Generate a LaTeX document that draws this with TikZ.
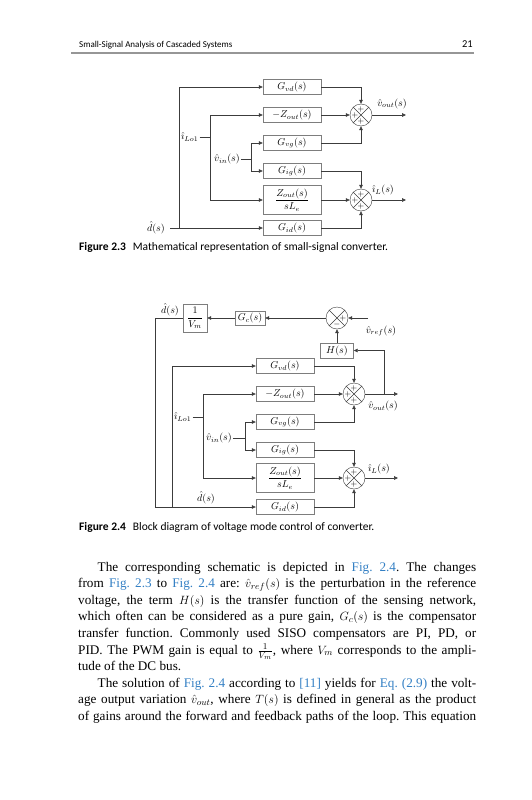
\documentclass[tikz,border=0pt]{standalone}
\usepackage{amsmath}
\usepackage{fontspec}
\setmainfont{Liberation Serif}
\newfontfamily\capfont{Carlito}
\usetikzlibrary{arrows.meta, positioning}
\definecolor{wire}{RGB}{60,60,60}
\definecolor{frame}{RGB}{125,125,125}
\definecolor{linkblue}{RGB}{52,128,196}
\definecolor{rulegray}{RGB}{150,150,150}
\newcommand{\lnk}[1]{{\color{linkblue}#1}}
\newcommand{\plus}{$+$}
\frenchspacing

\begin{document}
\begin{tikzpicture}[x=1pt, y=-1pt, every node/.style={font=\fontsize{10}{12}\selectfont},
      blk/.style={draw=frame, minimum width=58pt, minimum height=15pt, inner sep=0pt},
      tall/.style={blk, minimum height=29pt},
      sum/.style={circle, draw=wire, minimum size=22pt, inner sep=0pt,
                  path picture={\draw[wire, line width=0.5pt] (path picture bounding box.north west) -- (path picture bounding box.south east)
                                (path picture bounding box.north east) -- (path picture bounding box.south west);}},
      sgn/.style={font=\fontsize{8.5}{8.5}\selectfont, inner sep=0pt},
      lbl/.style={inner sep=1pt},
      ar/.style={-{Triangle[length=4pt, width=3.6pt]}, draw=wire, line width=0.6pt},
      ln/.style={draw=wire, line width=0.6pt},
      figcap/.style={anchor=base west, inner sep=0pt, font=\capfont\fontsize{11.5}{13}\selectfont}]
    \useasboundingbox (0,0) rectangle (531,800);

    % running head
    \node[anchor=base west, inner sep=0pt, font=\capfont\fontsize{9}{11}\selectfont] (head) at (79,48) {Small-Signal Analysis of Cascaded Systems};
    \node[anchor=base east, inner sep=0pt, font=\capfont\fontsize{10.5}{11}\selectfont] (pgno) at (473,48) {21};
    \coordinate (rl) at (71,53); \coordinate (rr) at (474,53);
    \draw[rulegray, line width=1.2pt] (rl) -- (rr);

    % Figure 2.3
    \node[blk] (gvd) at (292,87) {$G_{vd}(s)$};
    \node[blk] (zo) at (292,115) {$-Z_{out}(s)$};
    \node[blk] (gvg) at (292,143) {$G_{vg}(s)$};
    \node[blk] (gig) at (292,171) {$G_{ig}(s)$};
    \node[tall] (zsl) at (292,200) {$\dfrac{Z_{out}(s)}{sL_e}$};
    \node[blk] (gid) at (292,228) {$G_{id}(s)$};
    \node[sum] (s1) at (361,115) {};
    \node[sum] (s2) at (361,200) {};
    \foreach \s in {s1,s2} {
      \node[sgn] (\s t) at ([shift={(0,-6)}]\s.center) {\plus};
      \node[sgn] (\s l) at ([shift={(-6,0)}]\s.center) {\plus};
      \node[sgn] (\s b) at ([shift={(0,6)}]\s.center) {\plus};
    }
    \node[lbl, anchor=east] (d1) at (166,228) {$\hat{d}(s)$};
    \coordinate (d1a) at (170,228);
    \coordinate (d1b) at (179,228);
    \node[lbl, anchor=west] (il1) at (180,137) {$\hat{\imath}_{Lo1}$};
    \coordinate (il1a) at (210,137);
    \node[lbl, anchor=west] (vi1) at (213,159) {$\hat{v}_{in}(s)$};
    \coordinate (vi1a) at (251,159);
    \coordinate (o1) at (406,115);
    \coordinate (o2) at (406,200);
    \node[lbl] (vo1) at (392,104) {$\hat{v}_{out}(s)$};
    \node[lbl] (il1o) at (383,190) {$\hat{\imath}_{L}(s)$};

    \draw[ar] (d1a) -- (gid);
    \draw[ar] (d1b) |- (gvd);
    \draw[ln] (il1) -- (il1a);
    \draw[ar] (il1a) |- (zo);
    \draw[ar] (il1a) |- (zsl);
    \draw[ln] (vi1) -- (vi1a);
    \draw[ar] (vi1a) |- (gvg);
    \draw[ar] (vi1a) |- (gig);
    \draw[ar] (gvd) -| (s1);
    \draw[ar] (zo) -- (s1);
    \draw[ar] (gvg) -| (s1);
    \draw[ar] (gig) -| (s2);
    \draw[ar] (zsl) -- (s2);
    \draw[ar] (gid) -| (s2);
    \draw[ar] (s1) -- (o1);
    \draw[ar] (s2) -- (o2);

    \node[figcap] (cap3) at (79,250) {\textbf{Figure 2.3}\hspace{0.6em}Mathematical representation of small-signal converter.};

    % Figure 2.4
    \node[draw=frame, minimum width=24pt, minimum height=28pt, inner sep=0pt] (vm) at (195,318) {$\dfrac{1}{V_m}$};
    \node[draw=frame, minimum width=30pt, minimum height=14pt, inner sep=0pt] (gc) at (250,318) {$G_c(s)$};
    \node[sum] (s3) at (337,318) {};
    \node[sgn] (s3r) at ([shift={(6,0)}]s3.center) {\plus};
    \node[sgn] (s3b) at ([shift={(0,6)}]s3.center) {$-$};
    \node[draw=frame, minimum width=33pt, minimum height=15pt, inner sep=0pt] (hs) at (337,350.5) {$H(s)$};
    \coordinate (rf) at (368,318);
    \node[lbl] (vref) at (381,331) {$\hat{v}_{ref}(s)$};

    \node[blk] (gvd2) at (285,366) {$G_{vd}(s)$};
    \node[blk] (zo2) at (285,394) {$-Z_{out}(s)$};
    \node[blk] (gvg2) at (285,422) {$G_{vg}(s)$};
    \node[blk] (gig2) at (285,450) {$G_{ig}(s)$};
    \node[tall] (zsl2) at (285,478) {$\dfrac{Z_{out}(s)}{sL_e}$};
    \node[blk] (gid2) at (285,507) {$G_{id}(s)$};
    \node[sum] (s4) at (354,394) {};
    \node[sum] (s5) at (354,478) {};
    \foreach \s in {s4,s5} {
      \node[sgn] (\s t) at ([shift={(0,-6)}]\s.center) {\plus};
      \node[sgn] (\s l) at ([shift={(-6,0)}]\s.center) {\plus};
      \node[sgn] (\s b) at ([shift={(0,6)}]\s.center) {\plus};
    }
    \node[lbl] (d2) at (170,310) {$\hat{d}(s)$};
    \node[lbl] (d3) at (206,498) {$\hat{d}(s)$};
    \coordinate (c1) at (155,507);
    \coordinate (c2) at (172,507);
    \node[lbl, anchor=west] (il2) at (173,417) {$\hat{\imath}_{Lo1}$};
    \coordinate (il2a) at (203,417);
    \node[lbl, anchor=west] (vi2) at (205,438) {$\hat{v}_{in}(s)$};
    \coordinate (vi2a) at (245,438);
    \coordinate (o3) at (398,394);
    \coordinate (o4) at (398,478);
    \coordinate (fb) at (384,394);
    \node[lbl] (vo2) at (383,406) {$\hat{v}_{out}(s)$};
    \node[lbl] (il2o) at (379,469) {$\hat{\imath}_{L}(s)$};

    \draw[ar] (rf) -- (s3);
    \draw[ar] (s3) -- (gc);
    \draw[ar] (gc) -- (vm);
    \draw[ar] (vm) -| (c1) -- (gid2);
    \draw[ar] (c2) |- (gvd2);
    \draw[ar] (hs) -- (s3);
    \draw[ar] (fb) |- (hs);
    \draw[ln] (il2) -- (il2a);
    \draw[ar] (il2a) |- (zo2);
    \draw[ar] (il2a) |- (zsl2);
    \draw[ln] (vi2) -- (vi2a);
    \draw[ar] (vi2a) |- (gvg2);
    \draw[ar] (vi2a) |- (gig2);
    \draw[ar] (gvd2) -| (s4);
    \draw[ar] (zo2) -- (s4);
    \draw[ar] (gvg2) -| (s4);
    \draw[ar] (gig2) -| (s5);
    \draw[ar] (zsl2) -- (s5);
    \draw[ar] (gid2) -| (s5);
    \draw[ar] (s4) -- (o3);
    \draw[ar] (s5) -- (o4);

    \node[figcap] (cap4) at (79,530) {\textbf{Figure 2.4}\hspace{0.6em}Block diagram of voltage mode control of converter.};

    % running text
    \node[anchor=base west, inner sep=0pt, text width=398pt, align=justify,
          font=\fontsize{13.2}{16.6}\selectfont] (body) at (78,571) {%
      \hspace*{19.5pt}The corresponding schematic is depicted in \lnk{Fig. 2.4}. The changes\linebreak
      from \lnk{Fig. 2.3} to \lnk{Fig. 2.4} are: $\hat{v}_{ref}(s)$ is the perturbation in the reference\linebreak
      voltage, the term $H(s)$ is the transfer function of the sensing network,\linebreak
      which often can be considered as a pure gain, $G_c(s)$ is the compensator\linebreak
      transfer function. Commonly used SISO compensators are PI, PD, or\linebreak
      PID. The PWM gain is equal to $\frac{1}{V_m}$, where $V_m$ corresponds to the ampli-\linebreak
      tude of the DC bus.\par
      \hspace*{19.5pt}The solution of \lnk{Fig. 2.4} according to \lnk{[11]} yields for \lnk{Eq. (2.9)} the volt-\linebreak
      age output variation $\hat{v}_{out}$, where $T(s)$ is defined in general as the product\linebreak
      of gains around the forward and feedback paths of the loop. This equation\parfillskip=0pt\par};
  \end{tikzpicture}
\end{document}
